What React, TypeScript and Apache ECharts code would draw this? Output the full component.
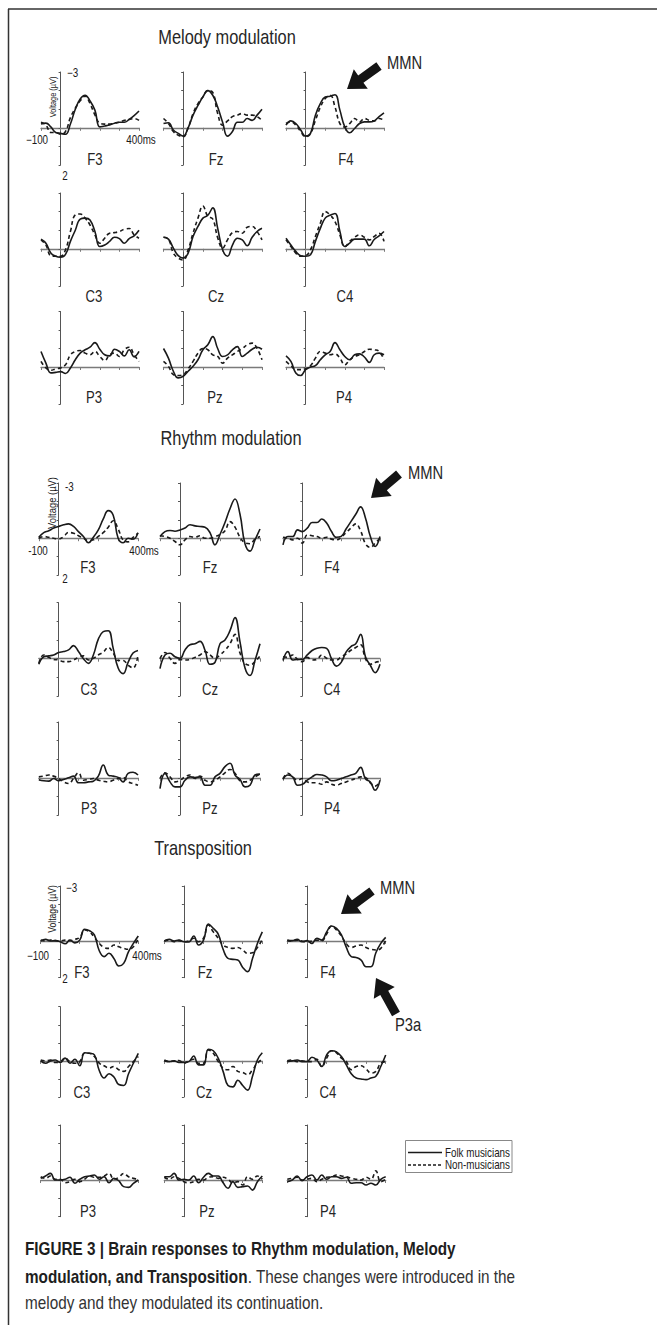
import React, { useEffect, useRef } from "react";
import * as echarts from "echarts";

// ---------- DATA (µV, negative plotted upward) ----------
const times = [-100, -75, -50, -25, 0, 25, 50, 75, 100, 125, 150, 175, 200, 225, 250, 275, 300, 325, 350, 375, 400];

const sectionTitles = ["Melody modulation", "Rhythm modulation", "Transposition"];
const electrodeRows = [["F3", "Fz", "F4"], ["C3", "Cz", "C4"], ["P3", "Pz", "P4"]];
const legendLabels = ["Folk musicians", "Non-musicians"];

const melodyF3Folk = [-0.2, -0.25, -0.05, 0.25, 0.3, 0.35, -0.2, -1.0, -1.55, -1.75, -1.45, -0.95, -0.05, -0.1, -0.15, -0.25, -0.3, -0.3, -0.45, -0.65, -0.9];
const melodyF3Non = [-0.3, -0.15, 0.25, 0.25, 0.35, 0.2, -0.55, -1.05, -1.45, -1.7, -1.3, -0.7, -0.25, -0.2, -0.2, -0.25, -0.3, -0.4, -0.45, -0.5, -0.4];
const melodyFzFolk = [-0.23, -0.27, 0.12, 0.3, 0.45, 0, -0.68, -1.2, -1.66, -2.0, -1.75, -1.12, -0.3, 0.45, 0.2, -0.3, -0.3, -0.5, -0.4, -0.68, -1.0];
const melodyFzNon = [-0.5, -0.23, 0.2, 0.4, 0.48, 0, -0.77, -1.3, -1.66, -2.0, -1.9, -0.77, -0.14, -0.37, -0.6, -0.68, -0.77, -0.68, -0.68, -0.6, -0.4];
const melodyF4Folk = [-0.14, -0.37, -0.23, 0.12, 0.45, 0.3, -0.68, -1.3, -1.66, -1.7, -1.78, -0.95, -0.05, 0.27, 0.04, -0.23, -0.32, -0.32, -0.37, -0.6, -0.8];
const melodyF4Non = [-0.23, -0.32, -0.14, 0.2, 0.48, 0.3, -0.4, -1.1, -1.57, -1.75, -1.12, -0.23, -0.05, -0.23, -0.5, -0.32, -0.5, -0.4, -0.37, -0.5, -0.4];
const melodyC3Folk = [-0.52, -0.3, 0.23, 0.4, 0.45, 0.3, -0.4, -1.0, -1.6, -1.65, -1.55, -0.93, -0.12, -0.2, -0.4, -0.62, -0.55, -0.3, -0.55, -0.7, -1.0];
const melodyC3Non = [-0.48, -0.2, 0.37, 0.4, 0.4, 0.05, -0.93, -1.82, -1.87, -1.65, -1.28, -0.75, -0.3, -0.57, -0.84, -0.87, -0.93, -1.05, -1.09, -0.75, -0.57];
const melodyCzFolk = [-0.62, -0.52, -0.04, 0.37, 0.5, 0.23, -0.66, -1.2, -1.65, -1.8, -2.2, -1.1, 0.05, 0.4, -0.2, -0.57, -0.48, -0.16, -0.62, -0.93, -1.1];
const melodyCzNon = [-0.62, -0.52, 0.23, 0.5, 0.6, 0.05, -0.84, -1.65, -2.3, -1.75, -1.6, -0.6, -0.04, -0.48, -0.87, -0.93, -0.84, -1.16, -1.2, -0.93, -0.48];
const melodyC4Folk = [-0.57, -0.2, 0.14, 0.37, 0.4, 0.32, -0.4, -1.1, -1.65, -1.8, -1.9, -0.93, -0.12, -0.3, -0.52, -0.52, -0.52, -0.16, -0.5, -0.7, -0.93];
const melodyC4Non = [-0.48, -0.12, 0.23, 0.4, 0.37, 0.05, -0.66, -1.37, -2.0, -1.82, -1.46, -0.75, -0.1, -0.4, -0.62, -0.75, -0.62, -0.48, -0.66, -0.84, -0.4];
const melodyP3Folk = [-0.84, -0.21, 0.32, 0.29, 0.25, 0.35, 0.05, -0.39, -0.75, -0.93, -1.07, -1.32, -0.96, -0.66, -0.6, -0.96, -0.84, -0.6, -0.93, -0.55, -0.84];
const melodyP3Non = [-0.3, 0.05, 0.18, 0.1, 0.05, -0.12, -0.66, -0.84, -0.89, -0.75, -0.66, -0.84, -0.57, -0.35, -0.66, -0.75, -0.57, -0.93, -1.07, -0.66, -0.3];
const melodyPzFolk = [-1.0, -0.48, 0.23, 0.59, 0.5, 0.23, -0.04, -0.39, -0.93, -1.2, -1.64, -1.0, -0.57, -0.66, -0.93, -1.1, -0.57, -0.75, -0.96, -1.07, -0.96];
const melodyPzNon = [-0.3, -0.04, 0.41, 0.46, 0.41, 0.1, -0.3, -0.75, -1.0, -0.93, -0.66, -0.57, -0.21, -0.48, -0.66, -0.84, -1.0, -1.2, -1.29, -1.0, -0.39];
const melodyP4Folk = [-0.6, -0.3, 0.32, 0.46, 0.14, 0, -0.07, -0.39, -0.66, -0.84, -1.32, -0.93, -0.57, -0.39, -0.66, -0.71, -0.54, -0.25, -0.66, -0.75, -0.66];
const melodyP4Non = [-0.3, -0.07, 0.14, 0.14, 0.1, -0.07, -0.48, -0.84, -0.75, -0.66, -0.71, -0.48, -0.12, -0.39, -0.57, -0.66, -0.84, -0.96, -0.93, -0.84, -0.39];

const rhythmF3Folk = [-0.05, -0.3, -0.4, -0.55, -0.64, -0.73, -0.78, -0.64, -0.36, -0.09, 0.25, -0.05, -0.45, -1.05, -1.5, -1.25, 0, 0.25, 0, 0.05, -0.3];
const rhythmF3Non = [0, -0.09, -0.05, 0, 0.05, -0.09, -0.31, -0.27, -0.13, 0, 0.13, 0.09, -0.1, -0.3, -0.6, -0.95, -0.5, 0.1, 0.2, -0.05, -0.27];
const rhythmFzFolk = [-0.09, -0.36, -0.42, -0.38, -0.45, -0.55, -0.73, -0.67, -0.64, -0.6, -0.3, 0.36, -0.2, -0.85, -1.6, -2.13, -1.3, 0.3, 0.7, 0.1, -0.5];
const rhythmFzNon = [-0.13, -0.09, 0, 0.18, 0.36, 0.09, -0.09, -0.05, -0.13, 0, 0, -0.09, -0.2, -0.4, -0.9, -0.6, -0.05, 0.25, 0.3, 0.05, -0.09];
const rhythmF4Folk = [0.36, -0.09, -0.09, -0.45, -0.36, -0.55, -0.85, -0.85, -1.04, -0.82, -0.36, -0.05, -0.1, -0.5, -0.9, -1.3, -1.7, -1.1, -0.1, 0.45, -0.09];
const rhythmF4Non = [-0.05, 0, 0.09, 0, 0.27, -0.18, -0.13, -0.09, 0, -0.05, 0.05, 0.09, -0.05, -0.3, -0.55, -0.78, -0.4, 0.3, 0.5, 0.27, 0];
const rhythmC3Folk = [0.3, -0.1, -0.15, -0.2, -0.33, -0.38, -0.47, -0.7, -0.38, 0, 0.25, -0.2, -1.05, -1.45, -1.5, -0.55, 0.5, 0.8, 0.2, -0.3, -0.44];
const rhythmC3Non = [0.25, -0.2, -0.07, 0.04, 0.07, 0.16, 0.16, 0.07, -0.07, -0.15, 0.07, -0.02, -0.2, -0.35, -0.6, -0.3, 0.1, 0.1, 0.35, 0.5, -0.2];
const rhythmCzFolk = [0.53, -0.2, -0.29, -0.1, -0.02, -0.47, -0.75, -0.8, -0.93, -0.45, 0.3, 0.2, -0.8, -1.0, -1.5, -2.2, -0.9, 0.5, 0.9, 0.1, -0.8];
const rhythmCzNon = [0, -0.33, -0.02, 0.25, 0.05, 0.07, 0.04, -0.07, -0.2, -0.38, -0.2, -0.02, -0.2, -0.45, -0.8, -1.3, -0.3, 0.25, 0.35, 0.15, -0.15];
const rhythmC4Folk = [0.1, -0.38, 0.07, 0.04, 0.04, -0.2, -0.44, -0.56, -0.6, -0.55, 0, 0.4, 0.2, -0.35, -0.65, -0.8, -1.3, -0.1, 0.35, 0.75, 0.3];
const rhythmC4Non = [-0.1, -0.07, -0.2, 0.04, 0.16, -0.07, 0.07, 0.04, -0.2, -0.02, 0.07, 0.07, -0.1, -0.25, -0.45, -0.6, -0.75, 0, 0.3, 0.2, 0.15];
const rhythmP3Folk = [0.1, 0.16, 0.18, 0.04, 0.16, 0.09, 0, -0.09, 0.27, 0.27, 0.22, 0.18, -0.09, -0.69, -0.15, -0.09, -0.02, 0.22, -0.24, -0.3, -0.15];
const rhythmP3Non = [-0.05, -0.09, -0.15, -0.09, 0.04, 0.22, 0.31, 0.04, -0.27, 0.13, 0.09, 0.04, 0.13, 0.18, 0.22, 0.13, 0.04, -0.02, 0.22, 0.31, 0.4];
const rhythmPzFolk = [0.58, -0.24, 0.22, 0.49, 0.49, 0.13, -0.05, -0.02, -0.05, 0.4, 0.4, -0.05, -0.24, -0.6, -0.78, -0.15, 0.09, 0.49, 0.4, -0.15, -0.2];
const rhythmPzNon = [0.04, -0.27, -0.05, 0.22, 0.13, -0.05, -0.15, 0.04, -0.09, 0.13, 0.22, 0.13, -0.05, -0.27, -0.45, -0.24, 0.16, 0.22, 0.13, -0.05, -0.2];
const rhythmP4Folk = [0.09, -0.15, -0.05, 0.4, 0.35, 0.13, -0.05, -0.18, -0.15, -0.05, 0.16, 0.13, 0.04, -0.05, -0.15, -0.24, -0.56, 0.05, 0.22, 0.67, 0.13];
const rhythmP4Non = [0.04, -0.24, -0.05, 0.13, 0.04, 0.22, 0.27, 0.27, 0.35, 0.22, 0.35, 0.4, 0.31, 0.22, 0.13, 0.04, -0.05, -0.02, 0.27, 0.45, 0.22];

const transF3Folk = [0, -0.09, 0, -0.02, 0.04, 0.15, -0.05, 0.1, -0.05, -0.64, -0.56, -0.33, 0.53, 0.85, 0.67, 0.95, 1.36, 1.22, 0.58, 0.13, -0.27];
const transF3Non = [-0.05, 0, -0.05, -0.02, 0, -0.05, -0.02, -0.09, -0.2, -0.6, -0.5, -0.2, 0.13, 0.35, 0.4, 0.22, 0.31, 0.4, 0.45, 0.31, -0.15];
const transFzFolk = [0, -0.09, 0, -0.05, 0.04, 0.05, -0.27, 0.22, -0.05, -0.93, -0.69, -0.38, 0.45, 0.95, 1.0, 1.04, 1.44, 1.67, 0.95, 0.13, -0.5];
const transFzNon = [0, -0.05, 0.04, -0.02, 0.04, 0, -0.15, 0.04, -0.15, -0.87, -0.5, -0.15, 0.22, 0.35, 0.4, 0.35, 0.49, 0.67, 0.64, 0.35, -0.09];
const transF4Folk = [-0.05, -0.02, -0.09, 0.04, -0.02, 0.13, -0.15, -0.05, -0.5, -0.82, -0.69, -0.33, 0.35, 0.85, 0.9, 1.04, 1.4, 1.4, 0.64, 0.13, -0.2];
const transF4Non = [-0.02, 0, -0.05, 0, 0.04, 0, -0.05, -0.02, -0.38, -0.82, -0.6, -0.27, 0.16, 0.35, 0.27, 0.22, 0.35, 0.45, 0.49, 0.4, -0.05];
const transC3Folk = [0, 0.13, 0, -0.05, 0.09, -0.15, 0.13, -0.09, 0.27, -0.45, -0.42, -0.33, 0.53, 0.95, 0.71, 0.89, 1.31, 1.36, 0.71, 0.13, -0.42];
const transC3Non = [-0.05, 0, -0.05, 0.09, 0.04, -0.15, 0.04, 0.13, 0.04, -0.42, -0.42, -0.24, 0.13, 0.27, 0.4, 0.31, 0.49, 0.58, 0.31, 0.04, -0.24];
const transCzFolk = [0, 0.04, 0, 0.09, 0.09, 0.04, -0.27, 0.22, 0.22, -0.64, -0.56, -0.15, 0.58, 1.36, 1.44, 1.07, 1.36, 1.62, 0.85, -0.05, -0.45];
const transCzNon = [-0.05, 0.04, 0, -0.02, 0.13, 0, -0.09, 0.13, 0.13, -0.6, -0.42, 0.04, 0.4, 0.49, 0.31, 0.58, 0.64, 0.76, 0.49, 0.13, -0.09];
const transC4Folk = [0.04, 0, -0.05, 0.04, 0.04, -0.2, -0.05, 0.31, -0.33, -0.56, -0.5, -0.24, 0.22, 0.71, 0.95, 1.0, 1.04, 0.95, 0.85, 0.31, -0.33];
const transC4Non = [0, -0.05, 0.04, 0, 0.04, 0.04, -0.09, 0.31, -0.15, -0.56, -0.45, -0.15, 0.04, 0.49, 0.31, 0.27, 0.45, 0.67, 0.58, 0.13, 0.04];
const transP3Folk = [-0.09, -0.22, -0.36, 0, 0, -0.04, -0.15, 0.18, -0.04, -0.18, -0.22, -0.27, -0.04, -0.18, 0.15, -0.09, 0.04, 0.36, 0.4, 0.18, 0];
const transP3Non = [-0.18, -0.09, -0.22, -0.04, -0.04, 0.15, 0.09, -0.04, 0.09, -0.04, -0.22, -0.15, -0.15, -0.22, -0.36, -0.04, -0.15, -0.36, -0.18, -0.09, -0.04];
const transPzFolk = [-0.18, -0.18, -0.36, 0, -0.04, 0, -0.22, 0.15, -0.15, -0.36, -0.22, -0.22, 0.15, 0.45, 0.09, 0.4, 0.36, 0.33, 0.55, 0.09, -0.22];
const transPzNon = [-0.15, -0.04, -0.18, -0.09, 0.09, 0.15, 0.09, -0.04, 0, -0.15, -0.18, -0.09, -0.15, -0.04, 0.15, 0.09, 0.27, -0.18, -0.04, -0.22, -0.04];
const transP4Folk = [0.09, 0, -0.22, 0.04, -0.18, -0.27, 0, -0.27, -0.04, -0.18, -0.18, -0.09, -0.15, 0.18, 0.15, 0.15, 0.27, 0.18, 0.27, -0.04, -0.18];
const transP4Non = [-0.04, -0.09, -0.15, 0, -0.04, -0.09, 0.09, -0.04, -0.15, -0.18, -0.27, -0.22, -0.18, -0.09, -0.04, 0, -0.15, -0.04, -0.5, 0.09, -0.04];

const folkSets = [
  [melodyF3Folk, melodyFzFolk, melodyF4Folk, melodyC3Folk, melodyCzFolk, melodyC4Folk, melodyP3Folk, melodyPzFolk, melodyP4Folk],
  [rhythmF3Folk, rhythmFzFolk, rhythmF4Folk, rhythmC3Folk, rhythmCzFolk, rhythmC4Folk, rhythmP3Folk, rhythmPzFolk, rhythmP4Folk],
  [transF3Folk, transFzFolk, transF4Folk, transC3Folk, transCzFolk, transC4Folk, transP3Folk, transPzFolk, transP4Folk],
];
const nonSets = [
  [melodyF3Non, melodyFzNon, melodyF4Non, melodyC3Non, melodyCzNon, melodyC4Non, melodyP3Non, melodyPzNon, melodyP4Non],
  [rhythmF3Non, rhythmFzNon, rhythmF4Non, rhythmC3Non, rhythmCzNon, rhythmC4Non, rhythmP3Non, rhythmPzNon, rhythmP4Non],
  [transF3Non, transFzNon, transF4Non, transC3Non, transCzNon, transC4Non, transP3Non, transPzNon, transP4Non],
];

// ---------- LAYOUT ----------
const SANS = "'Liberation Sans', Arial, Helvetica, sans-serif";
const NARROW_SCALE = 0.82;
const INK = "#1a1a1a";

const layout = [
  {
    title: [227, 37],
    cols: [[41, 139], [163.5, 262], [286, 384]],
    rows: [[72, 165], [193, 286], [311.5, 404]],
    labels: [[[95, 160], [216, 160], [346, 160]], [[94, 297], [216, 297], [345, 297]], [[94, 398], [215, 398], [344, 398]]],
    top: { m3: [67, 73, "−3"], two: [65, 176], m100: [37, 140, "−100"], ms: [141, 140], volt: [53, 97, 9] },
  },
  {
    title: [231, 438],
    cols: [[38.8, 138], [160, 260], [283, 380]],
    rows: [[483, 575], [602.7, 696], [722, 815]],
    labels: [[[88, 568], [210, 568], [332, 568]], [[89, 690], [210, 690], [332, 690]], [[89, 809], [210, 809], [332, 809]]],
    top: { m3: [65, 487, "-3"], two: [65, 579], m100: [38, 551, "-100"], ms: [144, 551], volt: [52, 503, 11.5] },
  },
  {
    title: [203, 848],
    cols: [[40.7, 138.3], [164.3, 262.3], [287.3, 385.7]],
    rows: [[886, 977.7], [1006.7, 1097], [1125, 1216.7]],
    labels: [[[82, 973], [205, 973], [328, 973]], [[82, 1093], [204, 1093], [328, 1093]], [[88, 1212], [207, 1212], [328, 1212]]],
    top: { m3: [66, 888, "−3"], two: [65, 979], m100: [38, 956, "−100"], ms: [147, 956], volt: [52, 909, 10.5] },
  },
];

const annotations = [
  { text: "MMN", x: 387, y: 62, tail: [379, 66], tip: [347, 89] },
  { text: "MMN", x: 408, y: 472, tail: [399, 474], tip: [371, 498] },
  { text: "MMN", x: 380, y: 887, tail: [372, 891], tip: [341, 914] },
  { text: "P3a", x: 395, y: 1024, tail: [396, 1014], tip: [376, 978] },
];

function arrowPoints(tail: number[], tip: number[]) {
  const dx = tip[0] - tail[0];
  const dy = tip[1] - tail[1];
  const L = Math.hypot(dx, dy);
  const ux = dx / L, uy = dy / L;
  const nx = -uy, ny = ux;
  const hl = 17, hw = 12, sw = 4.5;
  const nk = [tip[0] - ux * hl, tip[1] - uy * hl];
  return [
    [tail[0] + nx * sw, tail[1] + ny * sw],
    [nk[0] + nx * sw, nk[1] + ny * sw],
    [nk[0] + nx * hw, nk[1] + ny * hw],
    [tip[0], tip[1]],
    [nk[0] - nx * hw, nk[1] - ny * hw],
    [nk[0] - nx * sw, nk[1] - ny * sw],
    [tail[0] - nx * sw, tail[1] - ny * sw],
  ];
}

function txt(text: string, x: number, y: number, size: number, opts: any = {}) {
  const sx = opts.scaleX === undefined ? NARROW_SCALE : opts.scaleX;
  return {
    type: "text",
    x,
    y,
    scaleX: sx,
    scaleY: 1,
    rotation: opts.rotation || 0,
    silent: true,
    style: {
      text,
      fill: opts.fill || INK,
      fontSize: size,
      fontFamily: SANS,
      fontWeight: opts.weight || "normal",
      align: opts.align || "center",
      verticalAlign: "middle",
      rich: opts.rich,
    },
  };
}

export default function App() {
  const ref = useRef<HTMLDivElement>(null);

  useEffect(() => {
    if (!ref.current) return;
    const chart = echarts.init(ref.current, null, { renderer: "svg" });

    const grid: any[] = [];
    const xAxis: any[] = [];
    const yAxis: any[] = [];
    const series: any[] = [];
    const graphic: any[] = [];

    let idx = 0;
    layout.forEach((sec, s) => {
      graphic.push(txt(sectionTitles[s], sec.title[0], sec.title[1], 20, { fill: "#262626" }));
      for (let r = 0; r < 3; r++) {
        for (let c = 0; c < 3; c++) {
          const [x0, x1] = sec.cols[c];
          const [y0, y1] = sec.rows[r];
          grid.push({ left: x0, top: y0, width: x1 - x0, height: y1 - y0 });
          xAxis.push({
            gridIndex: idx,
            type: "value",
            min: -100,
            max: 400,
            interval: 100,
            axisLine: { show: true, onZero: true, lineStyle: { color: "#7a7a7a", width: 1.3 } },
            axisTick: { show: true, length: 3, lineStyle: { color: "#7a7a7a", width: 1 } },
            axisLabel: { show: false },
            splitLine: { show: false },
          });
          yAxis.push({
            gridIndex: idx,
            type: "value",
            min: -3,
            max: 2,
            interval: 1,
            inverse: true,
            axisLine: { show: true, onZero: true, lineStyle: { color: "#555", width: 1 } },
            axisTick: { show: true, length: 2, lineStyle: { color: "#555", width: 1 } },
            axisLabel: { show: false },
            splitLine: { show: false },
          });
          const k = r * 3 + c;
          const folk = folkSets[s][k];
          const non = nonSets[s][k];
          series.push({
            type: "line",
            name: legendLabels[0],
            xAxisIndex: idx,
            yAxisIndex: idx,
            data: times.map((t, i) => [t, folk[i]]),
            smooth: 0.45,
            showSymbol: false,
            clip: false,
            lineStyle: { color: INK, width: 1.6 },
          });
          series.push({
            type: "line",
            name: legendLabels[1],
            xAxisIndex: idx,
            yAxisIndex: idx,
            data: times.map((t, i) => [t, non[i]]),
            smooth: 0.45,
            showSymbol: false,
            clip: false,
            lineStyle: { color: INK, width: 1.6, type: [4, 3] },
          });
          const lp = sec.labels[r][c];
          graphic.push(txt(electrodeRows[r][c], lp[0], lp[1], 16, { fill: "#262626" }));
          idx++;
        }
      }
      const t = sec.top;
      graphic.push(txt(t.m3[2] as string, t.m3[0] as number, t.m3[1] as number, 12, { align: "left" }));
      graphic.push(txt("2", t.two[0] as number, t.two[1] as number, 12));
      graphic.push(txt(t.m100[2] as string, t.m100[0] as number, t.m100[1] as number, 12));
      graphic.push(txt("400ms", t.ms[0], t.ms[1], 12));
      graphic.push(txt("Voltage (µV)", t.volt[0], t.volt[1], t.volt[2], { rotation: Math.PI / 2 }));
    });

    annotations.forEach((a) => {
      graphic.push(txt(a.text, a.x, a.y, 18, { align: "left", fill: "#262626" }));
      graphic.push({
        type: "polygon",
        silent: true,
        shape: { points: arrowPoints(a.tail, a.tip) },
        style: { fill: "#151515", stroke: "none" },
      });
    });

    // border
    graphic.push({ type: "line", silent: true, shape: { x1: 8, y1: 9, x2: 657, y2: 9 }, style: { stroke: "#333", lineWidth: 1.5 } });
    graphic.push({ type: "line", silent: true, shape: { x1: 8.5, y1: 9, x2: 8.5, y2: 1325 }, style: { stroke: "#333", lineWidth: 1.5 } });

    // legend
    graphic.push({ type: "rect", silent: true, shape: { x: 405.5, y: 1140.5, width: 106.5, height: 32 }, style: { fill: "#fff", stroke: "#888", lineWidth: 1 } });
    graphic.push({ type: "line", silent: true, shape: { x1: 408, y1: 1152.5, x2: 442, y2: 1152.5 }, style: { stroke: INK, lineWidth: 1.3 } });
    graphic.push({ type: "line", silent: true, shape: { x1: 408, y1: 1165, x2: 442, y2: 1165 }, style: { stroke: INK, lineWidth: 1.3, lineDash: [3, 2] } });
    graphic.push(txt(legendLabels[0], 510, 1152.5, 12, { align: "right" }));
    graphic.push(txt(legendLabels[1], 510, 1165, 12, { align: "right" }));

    // caption
    const CAPS = 0.85;
    graphic.push(txt("FIGURE 3 | Brain responses to Rhythm modulation, Melody", 25, 1249, 18, { align: "left", weight: "bold", fill: "#1e1e1e", scaleX: CAPS }));
    graphic.push(
      txt("{b|modulation, and Transposition}{r|. These changes were introduced in the}", 25, 1277, 18, {
        align: "left",
        fill: "#222",
        scaleX: CAPS,
        rich: {
          b: { fontWeight: "bold", fontSize: 18, fontFamily: SANS, fill: "#1e1e1e" },
          r: { fontWeight: "normal", fontSize: 18, fontFamily: SANS, fill: "#333" },
        },
      })
    );
    graphic.push(txt("melody and they modulated its continuation.", 25, 1303, 18, { align: "left", fill: "#333", scaleX: CAPS }));

    chart.setOption({
      animation: false,
      backgroundColor: "#fff",
      grid,
      xAxis,
      yAxis,
      series,
      graphic,
    });

    return () => chart.dispose();
  }, []);

  return (
    <div
      ref={ref}
      style={{ position: "absolute", left: 0, top: 0, width: 657, height: 1325, background: "#fff" }}
    />
  );
}
